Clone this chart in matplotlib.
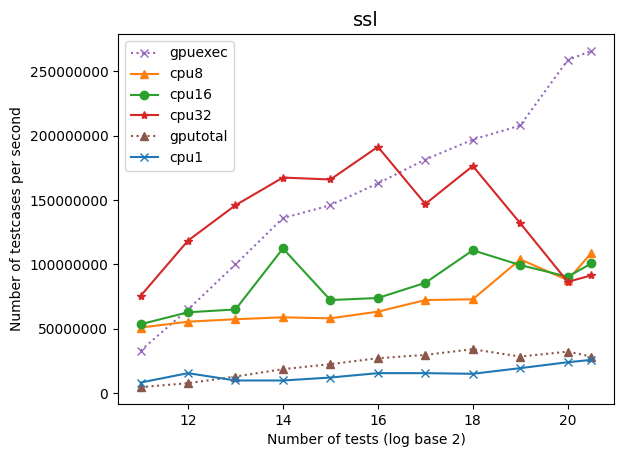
import matplotlib
matplotlib.use('Agg')
import matplotlib.pyplot as plt

## Data ##

x = [11, 12, 13, 14, 15, 16, 17, 18, 19, 20, 20.5]

gpuexec  = [33e6, 65e6, 100e6, 136e6, 146e6, 163e6, 181.5e6, 197e6, 208e6, 258.8e6, 266e6]
cpu8     = [50.9e6, 55.5e6, 57.4e6, 58.9e6, 58.1e6, 63.3e6, 72.3e6, 72.9e6, 103.9e6, 87.8e6, 109e6]
cpu16    = [53.5e6, 62.8e6, 65e6, 112.4e6, 72.3e6, 73.9e6, 85.7e6, 111e6, 99.5e6, 90.4e6, 100.8e6]
cpu32    = [75.5e6, 118.5e6, 146e6, 167.5e6, 166e6, 191.4e6, 147e6, 176.5e6, 132e6, 86.5e6, 91.5e6]
gputotal = [4.6e6, 7.7e6, 12.9e6, 18.6e6, 22.5e6, 27.1e6, 29.7e6, 34.1e6, 28.4e6, 32.2e6, 28.4e6]
cpu1     = [8.2e6, 15.5e6, 9.8e6, 9.8e6, 12.1e6, 15.5e6, 15.5e6, 15e6, 19.4e6, 24e6, 25.8e6]

## Create figure ##

fig = plt.figure(figsize=(6.27, 4.57), dpi=100)
ax = fig.add_axes([118/627, 1 - 404/457, (614 - 118)/627, (404 - 34)/457])

ax.plot(x, gpuexec, color='tab:purple', linestyle=':', marker='x', label='gpuexec')
ax.plot(x, cpu8, color='tab:orange', marker='^', label='cpu8')
ax.plot(x, cpu16, color='tab:green', marker='o', label='cpu16')
ax.plot(x, cpu32, color='tab:red', marker='*', label='cpu32')
ax.plot(x, gputotal, color='tab:brown', linestyle=':', marker='^', label='gputotal')
ax.plot(x, cpu1, color='tab:blue', marker='x', label='cpu1')

ax.ticklabel_format(axis='y', style='plain')
ax.set_title('ssl', fontsize=14)
ax.set_xlabel('Number of tests (log base 2)')
ax.set_ylabel('Number of testcases per second')
ax.legend(loc='upper left')

fig.savefig('out.png', dpi=100)
